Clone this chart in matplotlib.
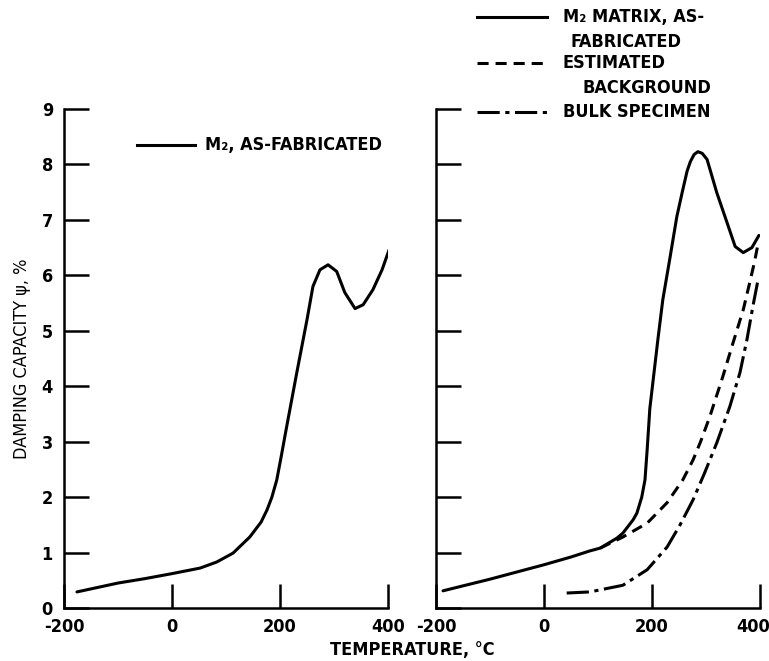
import matplotlib
matplotlib.use("Agg")
import matplotlib.pyplot as plt
from matplotlib import font_manager as fm
from matplotlib import transforms
from matplotlib.lines import Line2D

# pick a narrow face if one is installed
fonts = fm.fontManager.ttflist
family, stretch = 'DejaVu Sans', 'normal'
if any(f.name == 'Liberation Sans Narrow' for f in fonts):
    family = 'Liberation Sans Narrow'
elif any(f.name == 'DejaVu Sans' and f.stretch == 'condensed' for f in fonts):
    stretch = 'condensed'
elif any(f.name == 'Roboto Condensed' for f in fonts):
    family = 'Roboto Condensed'
elif any(f.name == 'Noto Sans' and f.stretch == 'condensed' for f in fonts):
    family, stretch = 'Noto Sans', 'condensed'

plt.rcParams['font.family'] = [family, 'DejaVu Sans']
plt.rcParams['font.stretch'] = stretch
plt.rcParams['font.weight'] = 'bold'
plt.rcParams['axes.unicode_minus'] = False
plt.rcParams['lines.scale_dashes'] = False

# left panel: M2, as-fabricated
left_temp = [-176, -100, -50, 0, 52, 83, 113, 144, 165, 176, 185, 194, 202, 211,
             231, 250, 261, 274, 289, 305, 320, 339, 354, 372, 389, 402]
left_psi = [0.29, 0.45, 0.53, 0.62, 0.72, 0.83, 0.99, 1.28, 1.55, 1.77, 2.0, 2.31,
            2.72, 3.2, 4.24, 5.2, 5.8, 6.1, 6.19, 6.07, 5.69, 5.4, 5.47, 5.74,
            6.1, 6.46]

# right panel: M2 matrix, as-fabricated
matrix_temp = [-187, -100, 0, 50, 85, 104, 135, 146, 165, 172, 181, 187, 191, 196,
               202, 211, 220, 233, 246, 256, 265, 271, 278, 285, 293, 302, 320,
               339, 354, 369, 385, 398]
matrix_psi = [0.31, 0.52, 0.78, 0.92, 1.03, 1.08, 1.26, 1.35, 1.59, 1.71, 2.0, 2.31,
              2.85, 3.6, 4.1, 4.85, 5.56, 6.3, 7.06, 7.5, 7.88, 8.05, 8.18, 8.23,
              8.2, 8.09, 7.49, 6.95, 6.52, 6.41, 6.5, 6.72]

# estimated background
bg_temp = [104, 146, 191, 228, 257, 276, 290, 307, 331, 350, 369, 381, 390, 396]
bg_psi = [1.08, 1.28, 1.53, 1.9, 2.31, 2.67, 3.0, 3.45, 4.17, 4.78, 5.38, 5.87,
          6.25, 6.55]

# bulk specimen
bulk_temp = [42, 85, 146, 191, 228, 252, 276, 298, 320, 344, 363, 376, 387, 396]
bulk_psi = [0.27, 0.29, 0.41, 0.69, 1.1, 1.5, 1.95, 2.45, 2.98, 3.63, 4.25, 4.85,
            5.45, 5.9]

x_ticks = [-200, 0, 200, 400]
y_ticks = [0, 1, 2, 3, 4, 5, 6, 7, 8, 9]

W, H = 769, 661
fig = plt.figure(figsize=(W / 100, H / 100), dpi=100)
ax1 = fig.add_axes([64 / W, 1 - 608 / H, 324 / W, 499 / H])
ax2 = fig.add_axes([436 / W, 1 - 608 / H, 324 / W, 499 / H])

lw = 2.2
fs = 13
for ax in (ax1, ax2):
    ax.set_xlim(-200, 400)
    ax.set_ylim(0, 9)
    ax.set_xticks(x_ticks)
    ax.set_yticks(y_ticks)
    for s in ('top', 'right'):
        ax.spines[s].set_visible(False)
    for s in ('left', 'bottom'):
        ax.spines[s].set_linewidth(1.8)
    ax.tick_params(axis='y', direction='in', length=18, width=1.8, pad=8, labelsize=fs)
    ax.tick_params(axis='x', direction='in', length=17, width=1.8, pad=7, labelsize=fs)
    ax.patch.set_alpha(0)

ax2.tick_params(axis='y', labelleft=False)

# last label on the right panel sits a bit left, inside the page
fig.canvas.draw()
last = ax2.get_xticklabels()[-1]
last.set_transform(last.get_transform() +
                   transforms.ScaledTranslation(-7 / 100, 0, fig.dpi_scale_trans))

ax1.plot(left_temp, left_psi, color='black', lw=lw, solid_capstyle='round',
         solid_joinstyle='round')
ax2.plot(matrix_temp, matrix_psi, color='black', lw=lw, solid_capstyle='round',
         solid_joinstyle='round')
ax2.plot(bg_temp, bg_psi, color='black', lw=lw, dashes=(8, 5))
ax2.plot(bulk_temp, bulk_psi, color='black', lw=lw, dashes=(16, 4, 3, 4))

ax1.set_ylabel('DAMPING CAPACITY ψ, %', fontsize=fs, labelpad=8)
fig.text(412 / W, 1 - 650 / H, 'TEMPERATURE, °C', fontsize=fs, ha='center', va='center')


# legends drawn in figure pixels
def key(x0, x1, y, **kw):
    fig.add_artist(Line2D([x0 / W, x1 / W], [1 - y / H, 1 - y / H],
                          color='black', lw=lw, transform=fig.transFigure, **kw))


def label(x, y, s):
    fig.text(x / W, 1 - y / H, s, fontsize=fs, ha='left', va='center')


key(137, 195, 145)
label(205, 145, 'M₂, AS-FABRICATED')

key(477, 547, 17)
label(563, 17, 'M₂ MATRIX, AS-')
label(570, 42, 'FABRICATED')
key(477, 547, 63, dashes=(8, 5))
label(563, 63, 'ESTIMATED')
label(582, 88, 'BACKGROUND')
key(477, 547, 112, dashes=(16, 4, 3, 4))
label(563, 112, 'BULK SPECIMEN')

fig.savefig('out.png', dpi=100)
